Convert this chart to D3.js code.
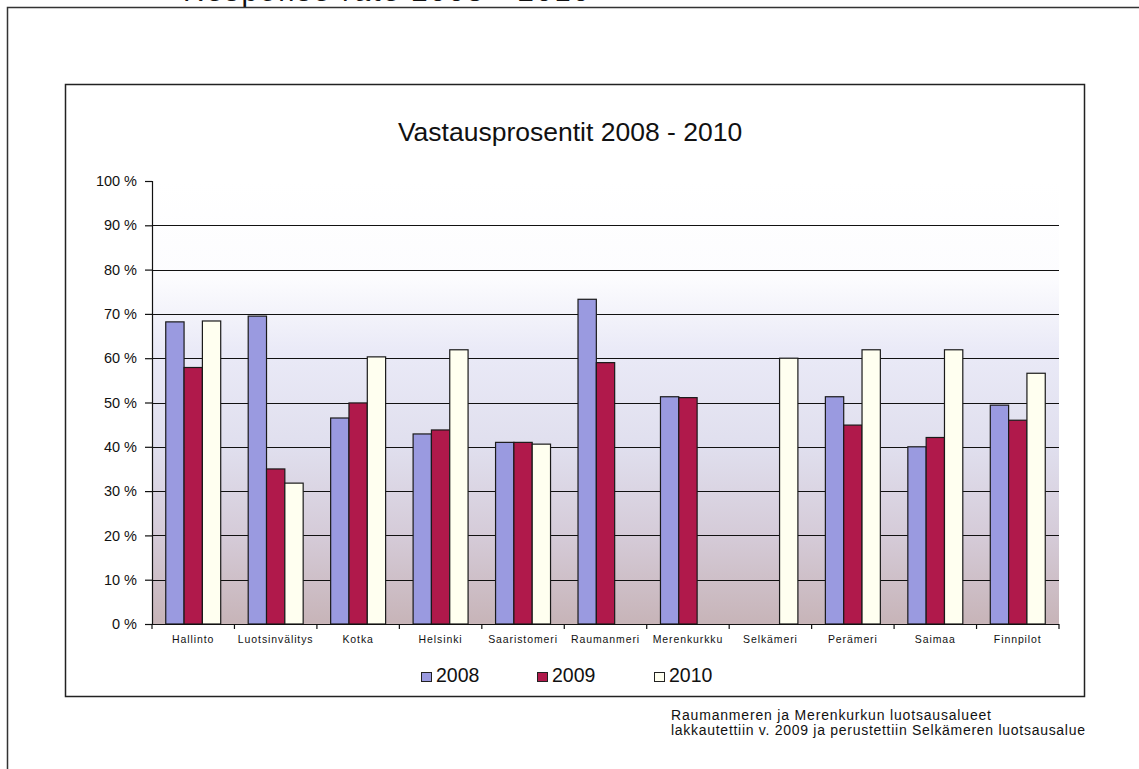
<!DOCTYPE html>
<html>
<head>
<meta charset="utf-8">
<script src="https://cdn.jsdelivr.net/npm/d3@7"></script>
<style>
  html, body { margin: 0; padding: 0; background: #fff; }
  svg { display: block; font-family: "Liberation Sans", Arial, sans-serif; }
</style>
</head>
<body>
<svg id="chart" width="1139" height="769"></svg>
<script>
// Response rates per pilotage area, 2008–2010
const categories = ["Hallinto", "Luotsinvälitys", "Kotka", "Helsinki", "Saaristomeri",
  "Raumanmeri", "Merenkurkku", "Selkämeri", "Perämeri", "Saimaa", "Finnpilot"];
const years = ["2008", "2009", "2010"];
const values2008 = [68.2, 69.5, 46.5, 42.9, 41.0, 73.3, 51.3, null, 51.3, 40.0, 49.4];
const values2009 = [57.9, 35.0, 49.9, 43.8, 41.0, 59.0, 51.1, null, 44.9, 42.1, 46.0];
const values2010 = [68.4, 31.8, 60.3, 61.9, 40.6, null, null, 60.0, 61.9, 61.9, 56.6];
const yTicks = [0, 10, 20, 30, 40, 50, 60, 70, 80, 90, 100];
const seriesColors = ["#9a9ae0", "#b0194b", "#fffff0"];

const series = [values2008, values2009, values2010];

const svg = d3.select("#chart");

// Page frame and heading (partly above the page top)
svg.append("text")
  .attr("x", 183).attr("y", 1)
  .attr("font-size", 29)
  .attr("textLength", 406)
  .attr("fill", "#111")
  .text("Response rate 2008 - 2010");
svg.append("path")
  .attr("d", "M7.5,769 V7.5 H1139")
  .attr("fill", "none").attr("stroke", "#333").attr("stroke-width", 1.5);

// Chart box
svg.append("rect")
  .attr("x", 65.5).attr("y", 84.5).attr("width", 1019).attr("height", 612)
  .attr("fill", "#fff").attr("stroke", "#222").attr("stroke-width", 1.5);

svg.append("text")
  .attr("x", 570).attr("y", 141)
  .attr("text-anchor", "middle")
  .attr("font-size", 26.5)
  .attr("fill", "#111")
  .text("Vastausprosentit 2008 - 2010");

// Plot area
const plot = { left: 152, right: 1059, top: 181, bottom: 624 };

const defs = svg.append("defs");
const grad = defs.append("linearGradient")
  .attr("id", "plotFill").attr("x1", 0).attr("y1", 0).attr("x2", 0).attr("y2", 1);
[["0%", "#ffffff"], ["22%", "#fcfcfe"], ["38%", "#eaeaf7"], ["60%", "#e0dfee"],
 ["80%", "#d5cbd8"], ["100%", "#c7b4b8"]].forEach(([o, c]) =>
  grad.append("stop").attr("offset", o).attr("stop-color", c));

svg.append("rect")
  .attr("x", plot.left).attr("y", plot.top)
  .attr("width", plot.right - plot.left).attr("height", plot.bottom - plot.top)
  .attr("fill", "url(#plotFill)");

const x = d3.scaleBand().domain(categories).range([plot.left, plot.right]).padding(0);
const xs = d3.scaleBand().domain(years).range([0, x.bandwidth()])
  .paddingInner(0).paddingOuter(0.75);
const y = d3.scaleLinear().domain([0, 100]).range([plot.bottom, plot.top]);

// Gridlines
svg.append("g")
  .selectAll("line")
  .data(yTicks.filter(t => t > 0 && t < 100))
  .join("line")
  .attr("x1", plot.left).attr("x2", plot.right)
  .attr("y1", d => Math.round(y(d)) + 0.5).attr("y2", d => Math.round(y(d)) + 0.5)
  .attr("stroke", "#111").attr("stroke-width", 1.2);

// Bars
const groups = svg.append("g")
  .selectAll("g")
  .data(categories)
  .join("g")
  .attr("transform", d => `translate(${x(d)},0)`);

groups.selectAll("rect")
  .data((c, i) => years.map((yr, s) => ({ yr, s, v: series[s][i] })).filter(d => d.v != null))
  .join("rect")
  .attr("x", d => xs(d.yr))
  .attr("width", xs.bandwidth())
  .attr("y", d => y(d.v))
  .attr("height", d => y(0) - y(d.v))
  .attr("fill", d => seriesColors[d.s])
  .attr("stroke", "#1a1a1a").attr("stroke-width", 1.2);

// Y axis
const yAxis = svg.append("g")
  .attr("transform", `translate(${plot.left},0)`)
  .call(d3.axisLeft(y).tickValues(yTicks).tickSize(7).tickPadding(8)
    .tickFormat(d => d + " %"));
yAxis.select(".domain").attr("stroke", "#111").attr("stroke-width", 1.2);
yAxis.selectAll(".tick line").attr("stroke", "#111").attr("stroke-width", 1.2);
yAxis.selectAll("text").attr("font-size", 14.5).attr("fill", "#111")
  .attr("font-family", "Liberation Sans, Arial, sans-serif");

// X axis with ticks at category boundaries
const xAxisG = svg.append("g").attr("transform", `translate(0,${plot.bottom})`);
xAxisG.append("line")
  .attr("x1", plot.left).attr("x2", plot.right)
  .attr("y1", 0.5).attr("y2", 0.5)
  .attr("stroke", "#111").attr("stroke-width", 1.2);
xAxisG.selectAll("line.tick")
  .data(categories.map(c => x(c)).concat([plot.right]))
  .join("line").attr("class", "tick")
  .attr("x1", d => d).attr("x2", d => d)
  .attr("y1", 0).attr("y2", 5)
  .attr("stroke", "#111").attr("stroke-width", 1.2);
xAxisG.selectAll("text")
  .data(categories)
  .join("text")
  .attr("x", d => x(d) + x.bandwidth() / 2)
  .attr("y", 19)
  .attr("text-anchor", "middle")
  .attr("font-size", 10.5)
  .attr("letter-spacing", 0.9)
  .attr("fill", "#111")
  .text(d => d);

// Legend
const legendX = [421, 537, 654];
const legend = svg.append("g");
years.forEach((yr, i) => {
  legend.append("rect")
    .attr("x", legendX[i] + 0.5).attr("y", 672.5).attr("width", 10).attr("height", 9)
    .attr("fill", seriesColors[i]).attr("stroke", "#222").attr("stroke-width", 1);
  legend.append("text")
    .attr("x", legendX[i] + 15).attr("y", 682)
    .attr("font-size", 19.5).attr("fill", "#111")
    .text(yr);
});

// Footnote
const note = svg.append("text").attr("font-size", 14).attr("fill", "#111");
note.append("tspan").attr("x", 671).attr("y", 720)
  .attr("textLength", 320)
  .text("Raumanmeren ja Merenkurkun luotsausalueet");
note.append("tspan").attr("x", 671).attr("y", 735)
  .attr("textLength", 414)
  .text("lakkautettiin v. 2009 ja perustettiin Selkämeren luotsausalue");
</script>
</body>
</html>
